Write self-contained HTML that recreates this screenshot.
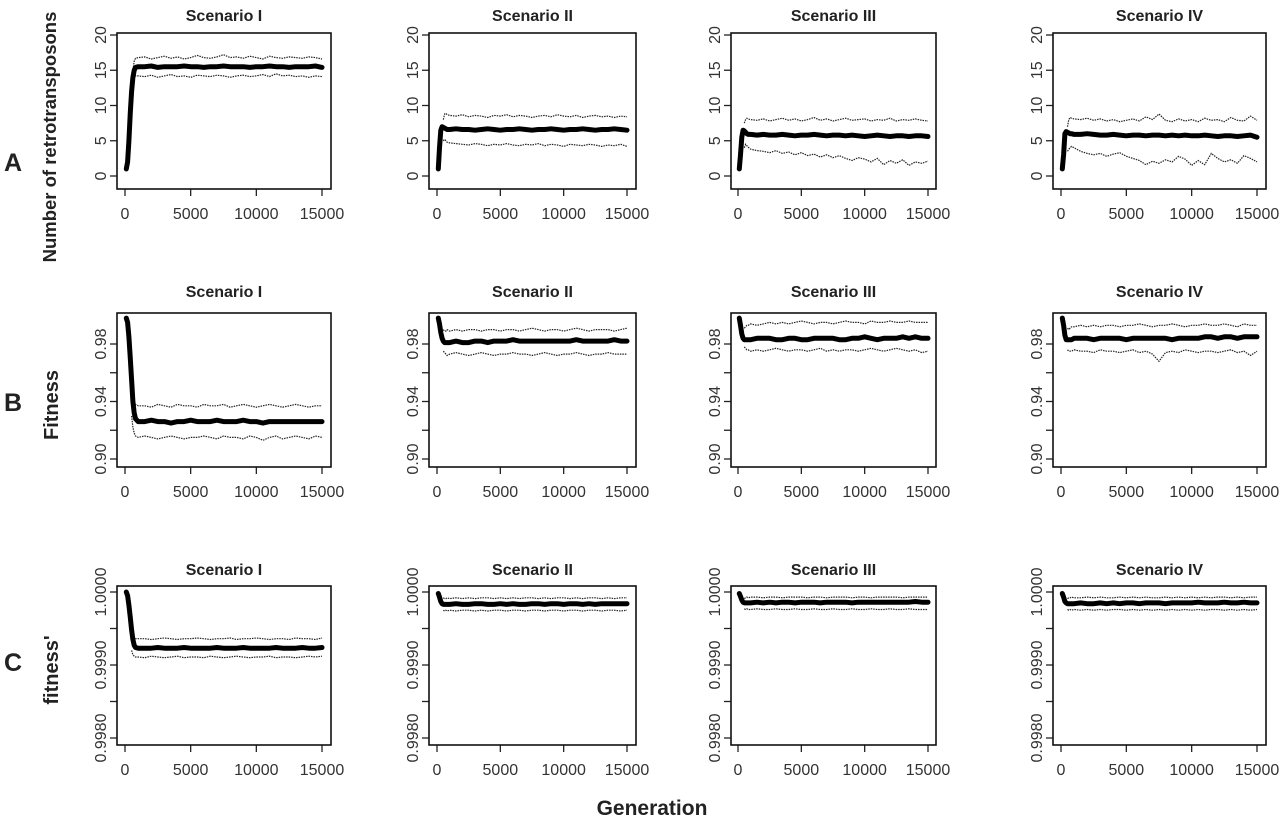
<!DOCTYPE html>
<html><head><meta charset="utf-8"><style>
body{margin:0;background:#fff;}
svg{display:block;font-family:"Liberation Sans",Arial,sans-serif;}
</style></head><body>
<svg id="fig" width="1280" height="820" viewBox="0 0 1280 820"></svg>
<script>
const gens=[100,200,300,400,500,600,700,800,1000,1500,2000,2500,3000,3500,4000,4500,5000,5500,6000,6500,7000,7500,8000,8500,9000,9500,10000,10500,11000,11500,12000,12500,13000,13500,14000,14500,15000];
const gensQ=[500,600,700,800,1000,1500,2000,2500,3000,3500,4000,4500,5000,5500,6000,6500,7000,7500,8000,8500,9000,9500,10000,10500,11000,11500,12000,12500,13000,13500,14000,14500,15000];
const scenarios=["Scenario I","Scenario II","Scenario III","Scenario IV"];
const xTicks=[0,5000,10000,15000];
const ticksA=[0,5,10,15,20];const labelsA=["0","5","10","15","20"];
const ticksB=[0.90,0.92,0.94,0.96,0.98];const labelsB=["0.90","","0.94","","0.98"];
const ticksC=[0.9980,0.9985,0.9990,0.9995,1.0000];const labelsC=["0.9980","","0.9990","","1.0000"];

const meanA1=[1,2,5,9,12,14,15,15.4,15.5,15.5,15.6,15.4,15.5,15.5,15.5,15.6,15.5,15.5,15.4,15.5,15.5,15.6,15.5,15.5,15.5,15.4,15.5,15.5,15.6,15.5,15.5,15.4,15.5,15.5,15.5,15.6,15.4];
const upA1=[13,15,16.3,16.7,16.8,16.9,16.6,16.8,17,16.7,16.9,16.6,16.8,17.1,16.8,16.7,16.9,17.2,16.8,16.9,16.7,17,16.8,16.6,17,16.8,16.7,16.9,16.8,16.7,16.9,16.8,16.6];
const loA1=[11,13,14,14.2,14.2,14.1,14.3,14.0,14.2,14.4,14.1,14.2,14.0,14.3,14.2,14.1,14.3,14.2,14.0,14.2,14.3,14.1,14.2,14.4,14.1,14.5,14.2,14.3,14.1,14.2,14.0,14.2,14.1];
const meanA2=[1,4,6.5,7,6.9,6.8,6.7,6.6,6.6,6.7,6.6,6.6,6.5,6.6,6.7,6.6,6.5,6.6,6.6,6.7,6.6,6.5,6.6,6.6,6.7,6.6,6.5,6.6,6.6,6.7,6.6,6.5,6.6,6.6,6.7,6.6,6.5];
const upA2=[8,8.8,8.9,8.7,8.6,8.5,8.7,8.4,8.6,8.5,8.3,8.6,8.5,8.7,8.4,8.6,8.5,8.3,8.5,8.6,8.4,8.7,8.5,8.4,8.6,8.3,8.5,8.6,8.4,8.5,8.3,8.5,8.4];
const loA2=[5,5.2,5,4.8,4.7,4.6,4.5,4.4,4.6,4.5,4.3,4.5,4.4,4.6,4.4,4.3,4.5,4.4,4.6,4.3,4.5,4.4,4.2,4.5,4.4,4.3,4.5,4.4,4.2,4.4,4.3,4.5,4.2];
const meanA3=[1,3,5.5,6.5,6.4,6.2,6.0,5.9,5.9,5.8,5.9,5.8,5.8,5.9,5.8,5.7,5.8,5.8,5.9,5.8,5.7,5.8,5.8,5.7,5.8,5.7,5.6,5.7,5.8,5.7,5.6,5.7,5.7,5.6,5.7,5.7,5.6];
const upA3=[7.5,8,8.2,8.1,8.0,7.9,8.1,7.8,8.0,8.2,7.9,8.1,7.8,8.0,8.3,7.9,8.1,7.8,8.0,8.2,7.9,8.0,8.1,7.8,8.0,7.9,8.2,7.8,8.0,7.9,8.1,7.9,7.8];
const loA3=[4,4.5,4.3,4.1,3.8,3.6,3.5,3.3,3.6,3.2,3.4,3.0,3.3,2.9,3.1,2.7,3.0,2.6,2.9,2.5,2.2,2.6,2.4,2.0,2.5,1.6,2.2,1.8,2.3,1.5,2.0,1.8,2.1];
const meanA4=[1,3,6,6.3,6.2,6.1,6.0,6.0,5.9,5.9,6.0,5.9,5.8,5.8,5.9,5.8,5.7,5.8,5.8,5.7,5.8,5.8,5.7,5.8,5.7,5.8,5.7,5.7,5.8,5.7,5.6,5.7,5.7,5.6,5.7,5.8,5.5];
const upA4=[7,8,8.3,8.2,8.1,8.0,8.2,7.9,8.1,7.8,8.0,7.7,7.9,8.1,7.8,8.4,8.0,8.8,7.9,7.7,8.1,7.8,8.0,7.7,8.2,7.9,8.0,7.7,8.3,7.9,7.8,8.5,7.9];
const loA4=[3.5,3.8,4.0,4.2,4.0,3.5,3.2,3.0,3.2,2.8,3.1,3.3,2.8,2.5,2.2,1.6,2.1,1.8,2.3,2.0,2.8,2.4,1.5,2.2,1.6,3.2,2.5,2.0,2.3,1.8,2.9,2.5,2.0];

const meanB1=[0.998,0.995,0.985,0.97,0.955,0.94,0.932,0.928,0.926,0.926,0.927,0.926,0.926,0.925,0.926,0.926,0.927,0.926,0.926,0.926,0.927,0.926,0.926,0.926,0.927,0.926,0.926,0.925,0.926,0.926,0.926,0.926,0.926,0.926,0.926,0.926,0.926];
const upB1=[0.95,0.942,0.939,0.938,0.937,0.937,0.936,0.938,0.937,0.936,0.938,0.937,0.937,0.936,0.938,0.937,0.937,0.938,0.936,0.937,0.938,0.937,0.936,0.937,0.938,0.937,0.936,0.937,0.938,0.937,0.936,0.937,0.937];
const loB1=[0.93,0.922,0.918,0.916,0.915,0.916,0.915,0.914,0.915,0.916,0.915,0.914,0.915,0.915,0.916,0.915,0.914,0.916,0.915,0.915,0.914,0.916,0.915,0.913,0.915,0.916,0.914,0.915,0.916,0.915,0.914,0.916,0.915];
const meanB2=[0.998,0.994,0.988,0.984,0.982,0.981,0.981,0.981,0.981,0.982,0.981,0.981,0.982,0.982,0.981,0.982,0.982,0.982,0.983,0.982,0.982,0.982,0.982,0.982,0.982,0.982,0.982,0.982,0.983,0.982,0.982,0.982,0.982,0.982,0.983,0.982,0.982];
const upB2=[0.990,0.989,0.989,0.990,0.989,0.990,0.989,0.990,0.990,0.989,0.990,0.990,0.989,0.990,0.990,0.989,0.990,0.991,0.990,0.989,0.990,0.990,0.989,0.990,0.991,0.990,0.989,0.990,0.990,0.990,0.989,0.990,0.991];
const loB2=[0.975,0.974,0.973,0.972,0.973,0.974,0.973,0.972,0.973,0.974,0.973,0.972,0.973,0.973,0.974,0.973,0.973,0.972,0.973,0.974,0.973,0.972,0.973,0.973,0.974,0.973,0.972,0.973,0.973,0.974,0.973,0.973,0.973];
const meanB3=[0.998,0.993,0.987,0.984,0.983,0.983,0.983,0.983,0.983,0.984,0.984,0.984,0.983,0.983,0.984,0.984,0.983,0.983,0.984,0.984,0.984,0.984,0.983,0.983,0.984,0.984,0.985,0.984,0.983,0.984,0.984,0.984,0.985,0.984,0.985,0.984,0.984];
const upB3=[0.991,0.992,0.993,0.993,0.994,0.993,0.994,0.995,0.994,0.995,0.994,0.995,0.996,0.995,0.994,0.995,0.995,0.994,0.995,0.996,0.995,0.995,0.994,0.996,0.995,0.995,0.996,0.995,0.995,0.996,0.995,0.995,0.995];
const loB3=[0.978,0.977,0.976,0.976,0.975,0.976,0.975,0.976,0.977,0.976,0.975,0.976,0.976,0.975,0.976,0.977,0.975,0.976,0.975,0.976,0.976,0.975,0.976,0.977,0.976,0.975,0.976,0.977,0.976,0.975,0.976,0.974,0.975];
const meanB4=[0.998,0.993,0.986,0.983,0.983,0.983,0.983,0.983,0.984,0.984,0.984,0.983,0.984,0.984,0.984,0.984,0.983,0.984,0.984,0.984,0.984,0.984,0.984,0.983,0.984,0.984,0.984,0.984,0.985,0.985,0.984,0.985,0.985,0.984,0.985,0.985,0.985];
const upB4=[0.991,0.990,0.991,0.992,0.992,0.993,0.992,0.993,0.992,0.993,0.993,0.992,0.993,0.993,0.994,0.993,0.992,0.993,0.993,0.994,0.993,0.992,0.993,0.993,0.994,0.993,0.993,0.994,0.993,0.992,0.994,0.993,0.993];
const loB4=[0.976,0.975,0.975,0.975,0.976,0.975,0.975,0.974,0.976,0.975,0.975,0.974,0.975,0.976,0.974,0.975,0.973,0.968,0.974,0.975,0.974,0.976,0.975,0.974,0.975,0.975,0.974,0.975,0.976,0.974,0.975,0.972,0.975];

const meanC1=[1.0000,0.99995,0.99982,0.99965,0.99948,0.99935,0.99927,0.99924,0.99923,0.99923,0.99923,0.99924,0.99923,0.99923,0.99923,0.99924,0.99923,0.99923,0.99923,0.99923,0.99924,0.99923,0.99923,0.99923,0.99924,0.99923,0.99923,0.99923,0.99923,0.99924,0.99923,0.99923,0.99923,0.99924,0.99923,0.99923,0.99924];
const upC1=[0.99945,0.9994,0.99937,0.99936,0.99936,0.99936,0.99935,0.99936,0.99937,0.99936,0.99935,0.99936,0.99936,0.99937,0.99936,0.99935,0.99936,0.99936,0.99937,0.99935,0.99936,0.99936,0.99937,0.99936,0.99935,0.99936,0.99936,0.99935,0.99937,0.99936,0.99936,0.99935,0.99937];
const loC1=[0.9992,0.99914,0.99912,0.99911,0.99911,0.9991,0.99912,0.99911,0.9991,0.99911,0.99912,0.9991,0.99911,0.99911,0.9991,0.99912,0.99911,0.9991,0.99911,0.99912,0.99911,0.9991,0.99911,0.99911,0.99912,0.9991,0.99911,0.99911,0.9991,0.99911,0.99912,0.99911,0.99912];
const meanC2=[0.99998,0.99993,0.99987,0.99984,0.99983,0.99983,0.99983,0.99983,0.99983,0.99984,0.99983,0.99983,0.99984,0.99984,0.99983,0.99983,0.99984,0.99983,0.99984,0.99983,0.99983,0.99984,0.99984,0.99983,0.99984,0.99984,0.99983,0.99984,0.99984,0.99983,0.99984,0.99983,0.99984,0.99984,0.99984,0.99984,0.99984];
const upC2=[0.99992,0.99991,0.99991,0.99992,0.99991,0.99992,0.99991,0.99992,0.99991,0.99992,0.99992,0.99991,0.99992,0.99991,0.99992,0.99991,0.99992,0.99992,0.99991,0.99992,0.99991,0.99992,0.99992,0.99991,0.99992,0.99991,0.99992,0.99992,0.99991,0.99992,0.99991,0.99992,0.99992];
const loC2=[0.99975,0.99974,0.99975,0.99974,0.99975,0.99974,0.99975,0.99975,0.99974,0.99975,0.99974,0.99975,0.99975,0.99974,0.99975,0.99975,0.99974,0.99975,0.99975,0.99974,0.99975,0.99975,0.99974,0.99975,0.99975,0.99974,0.99975,0.99975,0.99974,0.99975,0.99975,0.99974,0.99975];
const meanC3=[0.99998,0.99994,0.99989,0.99986,0.99985,0.99985,0.99985,0.99985,0.99985,0.99986,0.99985,0.99986,0.99985,0.99986,0.99986,0.99985,0.99986,0.99986,0.99986,0.99985,0.99986,0.99986,0.99986,0.99986,0.99985,0.99986,0.99986,0.99986,0.99986,0.99986,0.99986,0.99986,0.99986,0.99986,0.99987,0.99986,0.99986];
const upC3=[0.99991,0.99992,0.99993,0.99992,0.99993,0.99993,0.99992,0.99993,0.99993,0.99992,0.99993,0.99993,0.99993,0.99992,0.99993,0.99993,0.99992,0.99993,0.99993,0.99993,0.99992,0.99993,0.99993,0.99992,0.99993,0.99993,0.99993,0.99993,0.99992,0.99993,0.99993,0.99993,0.99993];
const loC3=[0.99977,0.99976,0.99977,0.99976,0.99976,0.99977,0.99976,0.99976,0.99977,0.99976,0.99976,0.99977,0.99976,0.99976,0.99977,0.99976,0.99976,0.99977,0.99976,0.99976,0.99977,0.99976,0.99976,0.99977,0.99976,0.99976,0.99977,0.99976,0.99976,0.99977,0.99976,0.99976,0.99976];
const meanC4=[0.99998,0.99993,0.99987,0.99985,0.99984,0.99984,0.99984,0.99984,0.99984,0.99985,0.99984,0.99984,0.99985,0.99984,0.99985,0.99984,0.99985,0.99985,0.99984,0.99985,0.99985,0.99985,0.99984,0.99985,0.99985,0.99985,0.99985,0.99986,0.99985,0.99985,0.99985,0.99986,0.99985,0.99985,0.99986,0.99985,0.99985];
const upC4=[0.99991,0.99992,0.99992,0.99993,0.99992,0.99992,0.99993,0.99992,0.99993,0.99992,0.99992,0.99993,0.99992,0.99993,0.99992,0.99993,0.99992,0.99992,0.99993,0.99992,0.99993,0.99992,0.99993,0.99992,0.99993,0.99992,0.99993,0.99993,0.99992,0.99993,0.99992,0.99993,0.99993];
const loC4=[0.99976,0.99975,0.99976,0.99975,0.99976,0.99975,0.99976,0.99975,0.99976,0.99975,0.99976,0.99976,0.99975,0.99976,0.99975,0.99976,0.99975,0.99976,0.99975,0.99976,0.99975,0.99976,0.99975,0.99976,0.99975,0.99976,0.99976,0.99975,0.99976,0.99975,0.99976,0.99975,0.99976];

const NS="http://www.w3.org/2000/svg";
const svg=document.getElementById('fig');
function mk(tag,attrs,parent,txt){const e=document.createElementNS(NS,tag);for(const k in attrs)e.setAttribute(k,attrs[k]);if(txt!==undefined)e.textContent=txt;(parent||svg).appendChild(e);return e;}

const cols=[{bl:117,br:331,x0:125,x1:322},{bl:429,br:636,x0:437,x1:627},{bl:731,br:936,x0:738,x1:928},{bl:1053,br:1266,x0:1061,x1:1257}];
const rows=[
 {key:'A',bt:33,bb:189,v0:0,p0:176,v1:20,p1:35,ticks:ticksA,labels:labelsA,title:21,
  series:[[meanA1,upA1,loA1],[meanA2,upA2,loA2],[meanA3,upA3,loA3],[meanA4,upA4,loA4]]},
 {key:'B',bt:313,bb:467,v0:0.90,p0:459,v1:0.98,p1:344,ticks:ticksB,labels:labelsB,title:297,
  series:[[meanB1,upB1,loB1],[meanB2,upB2,loB2],[meanB3,upB3,loB3],[meanB4,upB4,loB4]]},
 {key:'C',bt:586,bb:745,v0:0.9980,p0:738,v1:1.0,p1:592,ticks:ticksC,labels:labelsC,title:575,
  series:[[meanC1,upC1,loC1],[meanC2,upC2,loC2],[meanC3,upC3,loC3],[meanC4,upC4,loC4]]}
];

rows.forEach((r,ri)=>{
  const ys=v=>r.p0+(v-r.v0)*(r.p1-r.p0)/(r.v1-r.v0);
  cols.forEach((c,ci)=>{
    const xs=g=>c.x0+g*(c.x1-c.x0)/15000;
    const g=mk('g',{});
    
    
    const t=mk('text',{x:(c.bl+c.br)/2,y:r.title,'text-anchor':'middle','font-size':16,'font-weight':'bold',fill:'#222'},g,scenarios[ci]);
    
    
    r.ticks.forEach((v,i)=>{
      const y=ys(v);
      mk('line',{x1:c.bl-7,x2:c.bl,y1:y,y2:y,stroke:'#222','stroke-width':1.3},g);
      if(r.labels[i]){
        const lx=c.bl-11;
        const tl=mk('text',{x:lx,y:y,transform:`rotate(-90 ${lx} ${y})`,'text-anchor':'middle','font-size':16,fill:'#333'},g,r.labels[i]);
        
        
      }
    });
    xTicks.forEach(v=>{
      const x=xs(v);
      mk('line',{x1:x,x2:x,y1:r.bb,y2:r.bb+7,stroke:'#222','stroke-width':1.3},g);
      const tl=mk('text',{x:x,y:r.bb+30,'text-anchor':'middle','font-size':16,fill:'#333'},g,String(v));
      
      
    });
    const [m,u,l]=r.series[ci];
    const path=(vals,gg)=>{let d='';const n=Math.min(vals.length,gg.length);for(let i=0;i<n;i++)d+=(i?'L':'M')+xs(gg[i]).toFixed(1)+','+ys(vals[i]).toFixed(1);return d;};
    const pu=mk('path',{d:path(u,gensQ),fill:'none',stroke:'#222','stroke-width':1.2,'stroke-dasharray':'1.5,1'},g);
    
    
    const pl=mk('path',{d:path(l,gensQ),fill:'none',stroke:'#222','stroke-width':1.2,'stroke-dasharray':'1.5,1'},g);
    
    
    const pm=mk('path',{d:path(m,gens),fill:'none',stroke:'#000','stroke-width':5,'stroke-linejoin':'round','stroke-linecap':'round'},g);
    
    
    const box=mk('rect',{x:c.bl,y:r.bt,width:c.br-c.bl,height:r.bb-r.bt,fill:'none',stroke:'#111','stroke-width':1.6},g);
    
    
  });
});
const labs=[['A',171],['B',411],['C',671]];
labs.forEach(([k,y])=>{
  const e=mk('text',{x:13,y:y,'font-size':25,'font-weight':'bold',fill:'#222','text-anchor':'middle'},svg,k);
  
  
});
const yt=[['Number of retrotransposons',56,137],['Fitness',58,405],["fitness'",58,670]];
yt.forEach(([s,x,y],i)=>{
  const e=mk('text',{x:x,y:y,transform:`rotate(-90 ${x} ${y})`,'text-anchor':'middle','font-size':i===0?18.5:20,'font-weight':'bold',fill:'#222'},svg,s);
  
  
});
const xt=mk('text',{x:652,y:815,'text-anchor':'middle','font-size':21,'font-weight':'bold',fill:'#222'},svg,'Generation');


</script>
</body></html>
